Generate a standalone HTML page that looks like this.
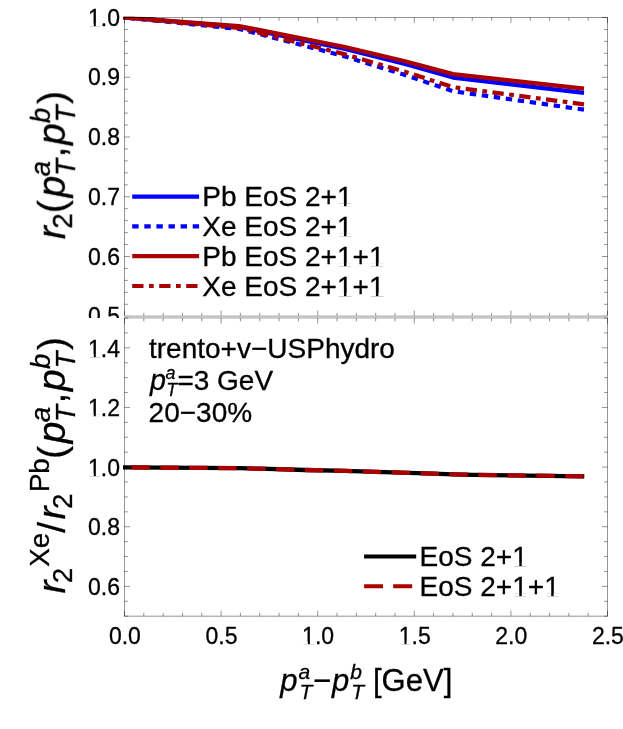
<!DOCTYPE html><html><head><meta charset="utf-8"><title>plot</title>
<style>html,body{margin:0;padding:0;background:#fff;overflow:hidden}svg{display:block}text{font-family:"Liberation Sans",sans-serif;fill:#000;stroke:#000;stroke-width:.3px}.i{font-style:italic}</style></head><body>
<svg width="623" height="729" viewBox="0 0 623 729">
<rect width="623" height="729" fill="#fff"/>
<defs><filter id="g" filterUnits="userSpaceOnUse" x="0" y="0" width="623" height="729" color-interpolation-filters="sRGB"><feOffset dx="0" dy="0"/></filter></defs>
<g id="top" filter="url(#g)">
<text x="120.0" y="25.70" font-size="23" text-anchor="end">1.0</text><rect x="88.77" y="23.63" width="5.03" height="2.72" fill="#fff"/><rect x="95.83" y="23.63" width="5.05" height="2.72" fill="#fff"/>
<text x="120.0" y="85.45" font-size="23" text-anchor="end">0.9</text>
<text x="120.0" y="145.20" font-size="23" text-anchor="end">0.8</text>
<text x="120.0" y="204.95" font-size="23" text-anchor="end">0.7</text>
<text x="120.0" y="264.70" font-size="23" text-anchor="end">0.6</text>
<text x="120.0" y="324.45" font-size="23" text-anchor="end">0.5</text>
<clipPath id="ct"><rect x="123" y="16.85" width="486" height="301"/></clipPath><clipPath id="cb"><rect x="123.6" y="17.6" width="486" height="301"/></clipPath><g clip-path="url(#ct)">
<polyline clip-path="url(#cb)" points="122.4,17.35 124.5,17.5 239,26.95 255,30.07 315,42.6 325,44.7 345,48.98 405,64.03 453,77.6 584,92.9" fill="none" stroke="#0000ff" stroke-width="4.2" stroke-linejoin="round"/>
<polyline clip-path="url(#cb)" points="122.4,17.35 124.5,17.5 239,28.95 255,32.89 315,48.48 325,51.1 345,56.51 405,74.93 453,91.2 584,109.65" fill="none" stroke="#0000ff" stroke-width="4.2" stroke-dasharray="6.4 5.7" stroke-dashoffset="5.86"/>
<polyline points="122.4,17.35 124.5,17.5 239,26.15 255,29.1 315,41.0 325,43.0 345,47.0 405,61.2 453,74.1 584,88.7" fill="none" stroke="#aa0000" stroke-width="4.2" stroke-linejoin="round"/>
<polyline points="122.4,17.35 124.5,17.5 239,27.95 255,31.74 315,46.78 325,49.3 345,54.36 405,71.75 453,87.2 584,104.3" fill="none" stroke="#aa0000" stroke-width="4.2" stroke-dasharray="11.3 5.5 4.7 5.5" stroke-dashoffset="25.97"/>
</g>
<rect x="124.5" y="17.5" width="483.0" height="298.75" fill="none" stroke="#000" stroke-opacity="0.42" stroke-width="1"/>
<path d="M124.50 316.25v-5.6M124.50 17.50v5.6M143.82 316.25v-3.4M143.82 17.50v3.4M163.14 316.25v-3.4M163.14 17.50v3.4M182.46 316.25v-3.4M182.46 17.50v3.4M201.78 316.25v-3.4M201.78 17.50v3.4M221.10 316.25v-5.6M221.10 17.50v5.6M240.42 316.25v-3.4M240.42 17.50v3.4M259.74 316.25v-3.4M259.74 17.50v3.4M279.06 316.25v-3.4M279.06 17.50v3.4M298.38 316.25v-3.4M298.38 17.50v3.4M317.70 316.25v-5.6M317.70 17.50v5.6M337.02 316.25v-3.4M337.02 17.50v3.4M356.34 316.25v-3.4M356.34 17.50v3.4M375.66 316.25v-3.4M375.66 17.50v3.4M394.98 316.25v-3.4M394.98 17.50v3.4M414.30 316.25v-5.6M414.30 17.50v5.6M433.62 316.25v-3.4M433.62 17.50v3.4M452.94 316.25v-3.4M452.94 17.50v3.4M472.26 316.25v-3.4M472.26 17.50v3.4M491.58 316.25v-3.4M491.58 17.50v3.4M510.90 316.25v-5.6M510.90 17.50v5.6M530.22 316.25v-3.4M530.22 17.50v3.4M549.54 316.25v-3.4M549.54 17.50v3.4M568.86 316.25v-3.4M568.86 17.50v3.4M588.18 316.25v-3.4M588.18 17.50v3.4M607.50 316.25v-5.6M607.50 17.50v5.6M124.5 304.30h3.4M607.5 304.30h-3.4M124.5 292.35h3.4M607.5 292.35h-3.4M124.5 280.40h3.4M607.5 280.40h-3.4M124.5 268.45h3.4M607.5 268.45h-3.4M124.5 244.55h3.4M607.5 244.55h-3.4M124.5 232.60h3.4M607.5 232.60h-3.4M124.5 220.65h3.4M607.5 220.65h-3.4M124.5 208.70h3.4M607.5 208.70h-3.4M124.5 184.80h3.4M607.5 184.80h-3.4M124.5 172.85h3.4M607.5 172.85h-3.4M124.5 160.90h3.4M607.5 160.90h-3.4M124.5 148.95h3.4M607.5 148.95h-3.4M124.5 125.05h3.4M607.5 125.05h-3.4M124.5 113.10h3.4M607.5 113.10h-3.4M124.5 101.15h3.4M607.5 101.15h-3.4M124.5 89.20h3.4M607.5 89.20h-3.4M124.5 65.30h3.4M607.5 65.30h-3.4M124.5 53.35h3.4M607.5 53.35h-3.4M124.5 41.40h3.4M607.5 41.40h-3.4M124.5 29.45h3.4M607.5 29.45h-3.4M124.5 316.25h5.6M607.5 316.25h-5.6M124.5 256.50h5.6M607.5 256.50h-5.6M124.5 196.75h5.6M607.5 196.75h-5.6M124.5 137.00h5.6M607.5 137.00h-5.6M124.5 77.25h5.6M607.5 77.25h-5.6M124.5 17.50h5.6M607.5 17.50h-5.6" stroke="#000" stroke-opacity="0.42" stroke-width="1" fill="none"/>
<path d="M123.2 17.5H156" stroke="#000" stroke-opacity=".4" stroke-width="1" fill="none"/>
<path d="M132.2 196.6H199.1" stroke="#0000ff" stroke-width="4.2"/>
<path d="M132.2 226.3H199.1" stroke="#0000ff" stroke-width="4.2" stroke-dasharray="6.4 5.7"/>
<path d="M132.2 256.2H199.1" stroke="#aa0000" stroke-width="4.2"/>
<path d="M132.2 286.0H199.1" stroke="#aa0000" stroke-width="4.2" stroke-dasharray="11.3 5.5 4.7 5.5"/>
<text x="202.3" y="206.10" font-size="28">Pb EoS 2+1</text><rect x="338.07" y="203.66" width="5.91" height="3.09" fill="#fff"/><rect x="346.46" y="203.66" width="5.89" height="3.09" fill="#fff"/>
<text x="202.3" y="235.80" font-size="28">Xe EoS 2+1</text><rect x="338.07" y="233.36" width="5.91" height="3.09" fill="#fff"/><rect x="346.46" y="233.36" width="5.89" height="3.09" fill="#fff"/>
<text x="202.3" y="265.70" font-size="28">Pb EoS 2+1+1</text><rect x="338.07" y="263.26" width="5.91" height="3.09" fill="#fff"/><rect x="346.46" y="263.26" width="5.89" height="3.09" fill="#fff"/><rect x="370.01" y="263.26" width="5.91" height="3.09" fill="#fff"/><rect x="378.39" y="263.26" width="5.89" height="3.09" fill="#fff"/>
<text x="202.3" y="295.50" font-size="28">Xe EoS 2+1+1</text><rect x="338.07" y="293.06" width="5.91" height="3.09" fill="#fff"/><rect x="346.46" y="293.06" width="5.89" height="3.09" fill="#fff"/><rect x="370.01" y="293.06" width="5.91" height="3.09" fill="#fff"/><rect x="378.39" y="293.06" width="5.89" height="3.09" fill="#fff"/>
<g transform="translate(64.9,239.2) rotate(-90)">
<text x="0" y="0" font-size="39" class="i">r</text>
<text x="10.4" y="6.6" font-size="27.7">2</text>
<text x="26.10" y="0" font-size="39">(</text>
<text x="41.80" y="0" font-size="39" class="i">p</text>
<text x="62.80" y="-15.1" font-size="27.7" class="i">a</text>
<text x="63.20" y="9.8" font-size="27.7" class="i">T</text>
<text x="81.70" y="0" font-size="39">,</text>
<text x="94.20" y="0" font-size="39" class="i">p</text>
<text x="116.00" y="-15.3" font-size="27.7" class="i">b</text>
<text x="116.70" y="9.8" font-size="27.7" class="i">T</text>
<text x="135.20" y="0" font-size="39">)</text>
</g>
</g>
<rect x="0" y="318" width="623" height="411" fill="#fff"/>
<rect x="124.0" y="315.6" width="484.0" height="3.1" fill="#c4c4c4"/>
<g id="bot" filter="url(#g)">
<text x="120.0" y="356.52" font-size="23" text-anchor="end">1.4</text><rect x="88.77" y="354.45" width="5.03" height="2.72" fill="#fff"/><rect x="95.83" y="354.45" width="5.05" height="2.72" fill="#fff"/>
<text x="120.0" y="416.16" font-size="23" text-anchor="end">1.2</text><rect x="88.77" y="414.09" width="5.03" height="2.72" fill="#fff"/><rect x="95.83" y="414.09" width="5.05" height="2.72" fill="#fff"/>
<text x="120.0" y="475.80" font-size="23" text-anchor="end">1.0</text><rect x="88.77" y="473.73" width="5.03" height="2.72" fill="#fff"/><rect x="95.83" y="473.73" width="5.05" height="2.72" fill="#fff"/>
<text x="120.0" y="535.44" font-size="23" text-anchor="end">0.8</text>
<text x="120.0" y="595.08" font-size="23" text-anchor="end">0.6</text>
<text x="124.90" y="643.9" font-size="23" text-anchor="middle">0.0</text>
<text x="221.50" y="643.9" font-size="23" text-anchor="middle">0.5</text>
<text x="318.10" y="643.9" font-size="23" text-anchor="middle">1.0</text><rect x="302.86" y="641.83" width="5.03" height="2.72" fill="#fff"/><rect x="309.92" y="641.83" width="5.05" height="2.72" fill="#fff"/>
<text x="414.70" y="643.9" font-size="23" text-anchor="middle">1.5</text><rect x="399.46" y="641.83" width="5.03" height="2.72" fill="#fff"/><rect x="406.52" y="641.83" width="5.05" height="2.72" fill="#fff"/>
<text x="511.30" y="643.9" font-size="23" text-anchor="middle">2.0</text>
<text x="607.90" y="643.9" font-size="23" text-anchor="middle">2.5</text>
<polyline points="123.0,467.3 240,468.2 260,468.7 305,470.0 345,470.9 433,473.7 453,474.3 473,474.8 584.3,476.4" fill="none" stroke="#000" stroke-width="4.3" stroke-linejoin="round"/>
<polyline points="123.0,467.3 240,468.2 260,468.7 305,470.0 345,470.9 433,473.7 453,474.3 473,474.8 584.3,476.4" fill="none" stroke="#aa0000" stroke-width="4.3" stroke-dasharray="18.4 10.53" stroke-dashoffset="-8.4"/>
<path d="M124.5 318.0V616.2H607.5V318.0" fill="none" stroke="#000" stroke-opacity="0.42" stroke-width="1"/>
<path d="M124.50 616.20v-5.6M124.50 318.00v5.6M143.82 616.20v-3.4M143.82 318.00v3.4M163.14 616.20v-3.4M163.14 318.00v3.4M182.46 616.20v-3.4M182.46 318.00v3.4M201.78 616.20v-3.4M201.78 318.00v3.4M221.10 616.20v-5.6M221.10 318.00v5.6M240.42 616.20v-3.4M240.42 318.00v3.4M259.74 616.20v-3.4M259.74 318.00v3.4M279.06 616.20v-3.4M279.06 318.00v3.4M298.38 616.20v-3.4M298.38 318.00v3.4M317.70 616.20v-5.6M317.70 318.00v5.6M337.02 616.20v-3.4M337.02 318.00v3.4M356.34 616.20v-3.4M356.34 318.00v3.4M375.66 616.20v-3.4M375.66 318.00v3.4M394.98 616.20v-3.4M394.98 318.00v3.4M414.30 616.20v-5.6M414.30 318.00v5.6M433.62 616.20v-3.4M433.62 318.00v3.4M452.94 616.20v-3.4M452.94 318.00v3.4M472.26 616.20v-3.4M472.26 318.00v3.4M491.58 616.20v-3.4M491.58 318.00v3.4M510.90 616.20v-5.6M510.90 318.00v5.6M530.22 616.20v-3.4M530.22 318.00v3.4M549.54 616.20v-3.4M549.54 318.00v3.4M568.86 616.20v-3.4M568.86 318.00v3.4M588.18 616.20v-3.4M588.18 318.00v3.4M607.50 616.20v-5.6M607.50 318.00v5.6M124.5 616.20h3.4M607.5 616.20h-3.4M124.5 601.29h3.4M607.5 601.29h-3.4M124.5 571.47h3.4M607.5 571.47h-3.4M124.5 556.56h3.4M607.5 556.56h-3.4M124.5 541.65h3.4M607.5 541.65h-3.4M124.5 511.83h3.4M607.5 511.83h-3.4M124.5 496.92h3.4M607.5 496.92h-3.4M124.5 482.01h3.4M607.5 482.01h-3.4M124.5 452.19h3.4M607.5 452.19h-3.4M124.5 437.28h3.4M607.5 437.28h-3.4M124.5 422.37h3.4M607.5 422.37h-3.4M124.5 392.55h3.4M607.5 392.55h-3.4M124.5 377.64h3.4M607.5 377.64h-3.4M124.5 362.73h3.4M607.5 362.73h-3.4M124.5 332.91h3.4M607.5 332.91h-3.4M124.5 318.00h3.4M607.5 318.00h-3.4M124.5 586.38h5.6M607.5 586.38h-5.6M124.5 526.74h5.6M607.5 526.74h-5.6M124.5 467.10h5.6M607.5 467.10h-5.6M124.5 407.46h5.6M607.5 407.46h-5.6M124.5 347.82h5.6M607.5 347.82h-5.6" stroke="#000" stroke-opacity="0.42" stroke-width="1" fill="none"/>
<text x="149.0" y="357.6" font-size="28">trento+v−USPhydro</text>
<text x="149.9" y="390.0" font-size="28.7" class="i">p</text>
<text x="165.6" y="379.4" font-size="18" class="i">a</text>
<text x="166.3" y="395.5" font-size="18" class="i">T</text>
<text x="177.4" y="390.0" font-size="28">=3 GeV</text>
<text x="148.6" y="422.0" font-size="28">20−30%</text>
<path d="M364.1 556.5H416.2" stroke="#000" stroke-width="4.0"/>
<path d="M364.1 586.3H383.0M393.2 586.3H412.2" stroke="#aa0000" stroke-width="4.0"/>
<text x="419.6" y="565.5" font-size="28">EoS 2+1</text><rect x="513.36" y="563.06" width="5.91" height="3.09" fill="#fff"/><rect x="521.74" y="563.06" width="5.89" height="3.09" fill="#fff"/>
<text x="419.6" y="595.8" font-size="28">EoS 2+1+1</text><rect x="513.36" y="593.36" width="5.91" height="3.09" fill="#fff"/><rect x="521.74" y="593.36" width="5.89" height="3.09" fill="#fff"/><rect x="545.28" y="593.36" width="5.91" height="3.09" fill="#fff"/><rect x="553.66" y="593.36" width="5.89" height="3.09" fill="#fff"/>
<text x="280.3" y="690.6" font-size="31" class="i">p</text>
<text x="298.5" y="678.9" font-size="21" class="i">a</text>
<text x="299.5" y="698.5" font-size="21" class="i">T</text>
<text x="313.0" y="690.6" font-size="31">−</text>
<text x="332.0" y="690.6" font-size="31" class="i">p</text>
<text x="350.2" y="678.9" font-size="21" class="i">b</text>
<text x="351.2" y="698.5" font-size="21" class="i">T</text>
<text x="373.0" y="690.6" font-size="31">[GeV]</text>
<g transform="translate(64.9,593.6) rotate(-90)">
<text x="0" y="0" font-size="39" class="i">r</text>
<text x="10.4" y="6.6" font-size="27.7">2</text>
<text x="26.8" y="-15.45" font-size="27.7">Xe</text>
<text x="60.8" y="0" font-size="39">/</text>
<text x="74.2" y="0" font-size="39" class="i">r</text>
<text x="84.6" y="6.6" font-size="27.7">2</text>
<text x="101.5" y="-15.45" font-size="27.7">Pb</text>
<text x="134.60" y="0" font-size="39">(</text>
<text x="150.30" y="0" font-size="39" class="i">p</text>
<text x="171.30" y="-15.1" font-size="27.7" class="i">a</text>
<text x="171.70" y="9.8" font-size="27.7" class="i">T</text>
<text x="190.20" y="0" font-size="39">,</text>
<text x="202.70" y="0" font-size="39" class="i">p</text>
<text x="224.50" y="-15.3" font-size="27.7" class="i">b</text>
<text x="225.20" y="9.8" font-size="27.7" class="i">T</text>
<text x="243.70" y="0" font-size="39">)</text>
</g>
</g>
</svg></body></html>
